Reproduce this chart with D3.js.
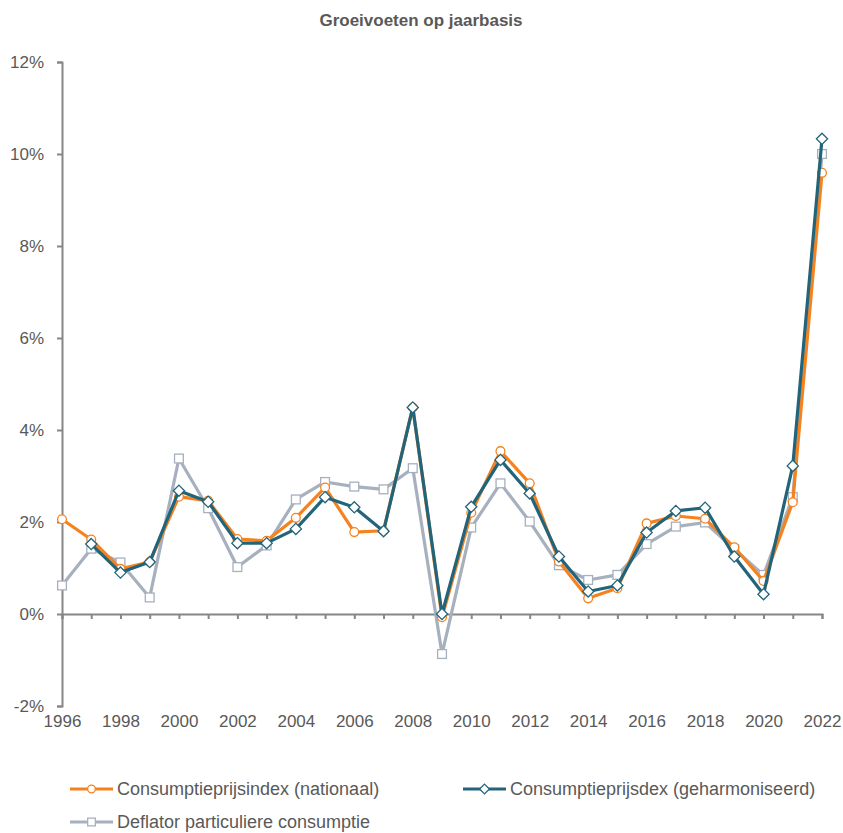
<!DOCTYPE html>
<html>
<head>
<meta charset="utf-8">
<title>Groeivoeten op jaarbasis</title>
<script src="https://cdn.jsdelivr.net/npm/d3@7"></script>
<style>
body { margin: 0; background: #fff; font-family: 'Liberation Sans', Arial, sans-serif; }
svg text { fill: #595959; }
</style>
</head>
<body>
<svg id="chart" width="843" height="833"></svg>
<script>

  var years = d3.range(1996, 2023);
  var cpiNational = [2.06, 1.62, 0.98, 1.13, 2.55, 2.46, 1.63, 1.59, 2.09, 2.75, 1.78, 1.81, 4.49, -0.07, 2.20, 3.54, 2.84, 1.14, 0.34, 0.56, 1.97, 2.13, 2.07, 1.45, 0.72, 2.43, 9.59];
  var cpiHarmonised = [null, 1.52, 0.90, 1.13, 2.68, 2.44, 1.54, 1.54, 1.85, 2.54, 2.32, 1.80, 4.49, 0.00, 2.33, 3.35, 2.62, 1.25, 0.49, 0.62, 1.77, 2.24, 2.31, 1.25, 0.43, 3.22, 10.33];
  var deflator = [0.62, 1.42, 1.12, 0.36, 3.38, 2.30, 1.02, 1.49, 2.49, 2.87, 2.77, 2.71, 3.17, -0.87, 1.88, 2.84, 2.01, 1.06, 0.74, 0.85, 1.52, 1.90, 1.99, 1.41, 0.85, 2.54, 10.00];
  var yTicks = [-2, 0, 2, 4, 6, 8, 10, 12];
  var xLabels = d3.range(1996, 2023, 2);

  var series = [
    {name: "Consumptieprijsindex (nationaal)", values: cpiNational, color: "#F5821F", marker: "circle"},
    {name: "Consumptieprijsdex (geharmoniseerd)", values: cpiHarmonised, color: "#22647A", marker: "diamond"},
    {name: "Deflator particuliere consumptie", values: deflator, color: "#A7B0BE", marker: "square"}
  ];

  var x = d3.scaleLinear().domain([1996, 2022]).range([62, 822]);
  var y = d3.scaleLinear().domain([-2, 12]).range([706, 62]);

  var svg = d3.select("#chart");
  var axisColor = "#868686";

  svg.append("text")
    .attr("x", 421).attr("y", 26)
    .attr("text-anchor", "middle")
    .style("font-size", "17px").style("font-weight", "bold")
    .text("Groeivoeten op jaarbasis");

  // y axis
  var yAxis = svg.append("g")
    .attr("transform", "translate(62,0)")
    .call(d3.axisLeft(y).tickValues(yTicks).tickSize(5).tickPadding(13)
      .tickFormat(function (d) { return d + "%"; }));
  yAxis.selectAll("text").style("font-size", "17px").style("font-family", "inherit");

  // x axis at zero, ticks only
  var xAxis = svg.append("g")
    .attr("transform", "translate(0," + y(0) + ")")
    .call(d3.axisBottom(x).tickValues(years).tickSize(5).tickFormat(""));

  // year labels under the plot
  var xLab = svg.append("g")
    .attr("transform", "translate(0," + y(-2) + ")")
    .call(d3.axisBottom(x).tickValues(xLabels).tickSize(0).tickPadding(9).tickFormat(d3.format("d")));
  xLab.select(".domain").remove();
  xLab.selectAll("text").style("font-size", "17px").style("font-family", "inherit");

  svg.selectAll(".domain, .tick line")
    .attr("stroke", axisColor).attr("stroke-width", 2);

  var line = d3.line()
    .defined(function (d) { return d.v !== null; })
    .x(function (d) { return x(d.year); })
    .y(function (d) { return y(d.v); });

  function pts(s) {
    return years.map(function (yr, i) { return {year: yr, v: s.values[i]}; });
  }

  function drawMarker(g, type, cx, cy, color, size) {
    if (type === "circle") {
      g.append("circle").attr("cx", cx).attr("cy", cy).attr("r", size * 0.55)
        .attr("fill", "#fff").attr("stroke", color).attr("stroke-width", 1.3);
    } else if (type === "diamond") {
      var s = size * 0.7;
      g.append("path")
        .attr("d", "M" + cx + "," + (cy - s) + "L" + (cx + s) + "," + cy + "L" + cx + "," + (cy + s) + "L" + (cx - s) + "," + cy + "Z")
        .attr("fill", "#fff").attr("stroke", color).attr("stroke-width", 1.3);
    } else {
      var h = size * 0.55;
      g.append("rect").attr("x", cx - h).attr("y", cy - h).attr("width", 2 * h).attr("height", 2 * h)
        .attr("fill", "#fff").attr("stroke", color).attr("stroke-width", 1.3);
    }
  }

  var order = [2, 0, 1];
  var plot = svg.append("g");
  order.forEach(function (k) {
    var s = series[k];
    var g = plot.append("g");
    g.append("path")
      .attr("d", line(pts(s)))
      .attr("fill", "none").attr("stroke", s.color).attr("stroke-width", 3.2)
      .attr("stroke-linejoin", "round");
    pts(s).filter(function (d) { return d.v !== null; }).forEach(function (d) {
      drawMarker(g, s.marker, x(d.year), y(d.v), s.color, 8);
    });
  });

  // legend
  var legendPos = [[70, 789], [463, 789], [70, 822]];
  series.forEach(function (s, i) {
    var g = svg.append("g").attr("transform", "translate(" + legendPos[i][0] + "," + legendPos[i][1] + ")");
    g.append("line").attr("x1", 0).attr("x2", 43).attr("y1", 0).attr("y2", 0)
      .attr("stroke", s.color).attr("stroke-width", 3.2);
    drawMarker(g, s.marker, 21.5, 0, s.color, 7);
    g.append("text").attr("x", 47).attr("y", 0).attr("dy", "0.35em")
      .style("font-size", "18px").text(s.name);
  });

</script>
</body>
</html>
